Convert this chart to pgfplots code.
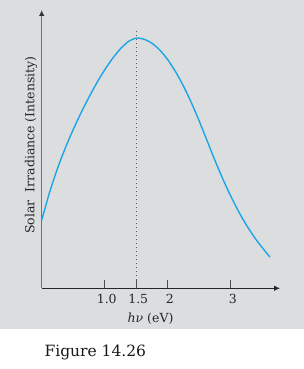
\documentclass[border=0pt]{standalone}
\usepackage{fontspec}
\setmainfont{DejaVu Serif}
\usepackage{pgfplots}
\pgfplotsset{compat=1.18}
\usetikzlibrary{arrows.meta}
\definecolor{bg}{RGB}{220,221,223}
\definecolor{curve}{RGB}{28,166,230}
\begin{document}
\begin{tikzpicture}
\fill[bg] (0pt,40pt) rectangle (304pt,369pt);
\useasboundingbox (0pt,0pt) rectangle (304pt,369pt);
\begin{axis}[
  at={(41.7pt,80.7pt)}, anchor=south west,
  scale only axis, width=238.3pt, height=278.3pt,
  xmin=0, xmax=3.78, ymin=0, ymax=278,
  axis lines=left,
  clip=false,
  x axis line style={draw=black!85, line width=0.9pt, -{Latex[length=6pt,width=5.5pt]}},
  y axis line style={draw=black!55, line width=1.1pt, -{Latex[length=6pt,width=5.5pt,color=black!80]}},
  xtick={1,1.5,2,3}, xticklabels={1.0,1.5,2,3},
  ytick=\empty,
  tick align=inside,
  major tick length=8pt,
  tick style={draw=black!70, line width=0.8pt},
  /pgf/number format/assume math mode=true,
  xticklabel style={font=\fontsize{12.5}{14}\selectfont, anchor=base, yshift=-15pt, xshift=2pt, text=black!85},
  xlabel={\textit{hν} (eV)},
  xlabel style={font=\fontsize{12.5}{14}\selectfont, at={(axis description cs:0.4566,-0.1229)}, anchor=base, text=black!85},
  ylabel={Solar\ \ Irradiance (Intensity)},
  ylabel style={font=\fontsize{12.5}{14}\selectfont, at={(axis description cs:-0.031,0.515)}, anchor=base, text=black!85},
]
\addplot[curve, line width=1.4pt, smooth, tension=0.4] coordinates {
(0,68) (0.125,95.8) (0.25,119.6) (0.375,140.2) (0.5,158.6) (0.625,175.4)
(0.75,190.9) (0.875,205.3) (1.0,218.3) (1.125,229.7) (1.25,239.3) (1.375,246.5)
(1.5,250) (1.625,248.75) (1.75,244.75) (1.875,237.9) (2.0,228.3) (2.125,216.2)
(2.25,201.8) (2.375,185.3) (2.5,166.9) (2.625,147.2) (2.75,127.5) (2.875,108.9)
(3.0,91.9) (3.125,76.5) (3.25,62.9) (3.375,50.9) (3.5,40.5) (3.62,31.2)
};
\addplot[black!65, line width=1pt, dash pattern=on 1.3pt off 2.7pt] coordinates {(1.5,0) (1.5,258)};
\end{axis}
\node[anchor=base west, font=\fontsize{15.5}{18}\selectfont, text=black!90] at (41pt,12.3pt) {Figure 14.26};
\end{tikzpicture}
\end{document}
